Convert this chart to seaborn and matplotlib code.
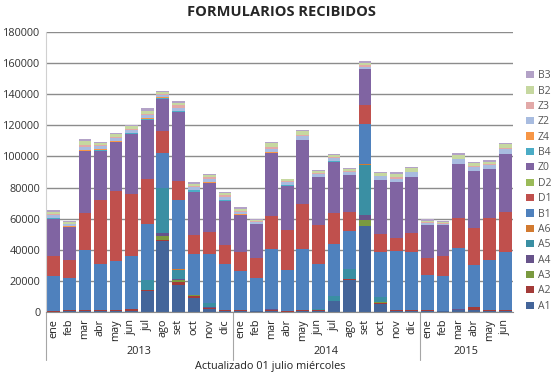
import numpy as np
import pandas as pd
import matplotlib
matplotlib.use("Agg")
import matplotlib.pyplot as plt
import matplotlib.transforms as mtransforms
import seaborn as sns

# datos
meses = ["ene", "feb", "mar", "abr", "may", "jun", "jul", "ago", "set", "oct", "nov", "dic"] * 2 + \
        ["ene", "feb", "mar", "abr", "may", "jun"]
anios = ["2013", "2014", "2015"]

A1 = [300, 500, 600, 600, 600, 700, 13300, 45400, 17500, 9200, 1900, 800, 500, 400, 700, 300, 500, 600,
      6800, 20800, 55000, 5200, 600, 500, 400, 400, 1000, 1500, 700, 700]
A2 = [400, 500, 800, 800, 800, 1000, 1000, 800, 1800, 1300, 900, 300, 700, 400, 900, 300, 600, 700,
      300, 300, 600, 600, 400, 500, 600, 300, 500, 1500, 400, 500]
A3 = [0, 0, 0, 0, 0, 0, 0, 2400, 1000, 300, 0, 0, 0, 0, 0, 0, 0, 300,
      0, 0, 3300, 600, 0, 0, 0, 0, 0, 0, 0, 0]
A4 = [0, 0, 0, 0, 0, 0, 0, 2500, 1100, 0, 500, 0, 0, 0, 300, 0, 0, 0,
      0, 0, 3200, 0, 0, 0, 0, 0, 300, 0, 0, 0]
A5 = [0, 0, 0, 0, 0, 0, 6500, 28700, 5800, 0, 2700, 400, 0, 0, 0, 0, 0, 300,
      3200, 6300, 32700, 3000, 200, 200, 0, 0, 300, 400, 0, 0]
A6 = [0, 0, 0, 0, 0, 0, 0, 0, 300, 0, 0, 0, 0, 0, 0, 0, 0, 0,
      0, 0, 400, 0, 0, 0, 0, 0, 0, 0, 0, 0]
B1 = [22200, 21000, 38200, 29200, 31100, 34500, 35900, 22500, 44800, 26700, 31500, 29100, 24900, 21000,
      38600, 26500, 39100, 29100, 33600, 24700, 25600, 29000, 37700, 37200, 23100, 22300, 38900, 26500,
      32400, 37200]
D1 = [12800, 11600, 24000, 41400, 45500, 39700, 28600, 14200, 12200, 11700, 13900, 12200, 12400, 13100,
      21200, 25800, 29500, 24700, 20000, 12100, 12300, 11900, 8800, 12300, 10500, 12900, 19200, 24000,
      26700, 25800]
D2 = [0] * 30
Z0 = [24400, 21000, 39800, 31800, 31000, 38500, 38100, 20600, 43800, 28200, 31400, 28500, 23800, 21400,
      40600, 28400, 40800, 30900, 32600, 24000, 23200, 34400, 35900, 35900, 21100, 19800, 35000, 36600,
      32000, 37300]
B4 = [200, 200, 400, 300, 300, 600, 600, 500, 700, 800, 0, 700, 0, 0, 0, 600, 0, 0,
      300, 0, 0, 0, 0, 0, 0, 0, 0, 0, 0, 0]
Z4 = [200, 200, 300, 500, 700, 200, 600, 400, 0, 300, 600, 0, 400, 0, 300, 0, 0, 0,
      0, 0, 0, 0, 0, 0, 0, 0, 0, 0, 0, 0]
Z2 = [2000, 1300, 2000, 1800, 1600, 1700, 2000, 1500, 1900, 1700, 2400, 2200, 1600, 1300, 2500, 1700,
      2600, 1800, 1900, 2100, 1100, 2600, 2200, 3100, 1500, 1000, 3000, 2600, 2200, 3000]
Z3 = [800, 500, 1100, 800, 1100, 500, 1000, 700, 2200, 1000, 900, 800, 700, 600, 700, 700, 1000, 700,
      700, 500, 1500, 400, 800, 400, 500, 400, 400, 800, 600, 700]
B2 = [1300, 900, 2800, 1200, 1500, 2300, 1600, 1100, 1200, 1000, 1200, 1300, 1500, 800, 2600, 1000,
      2200, 1400, 1400, 1300, 1300, 1700, 2000, 2500, 800, 800, 2400, 1600, 1500, 2500]
B3 = [900, 500, 1100, 700, 700, 300, 2100, 800, 1500, 1100, 900, 800, 800, 900, 800, 500, 400, 600,
      900, 200, 1200, 300, 1100, 900, 1000, 300, 1100, 1000, 900, 700]

# orden de apilado (de abajo hacia arriba)
series = ["A1", "A2", "A3", "A4", "A5", "A6", "B1", "D1", "D2", "Z0", "B4", "Z4", "Z2", "Z3", "B2", "B3"]
colores = {
    "A1": "#44659A", "A2": "#A33B38", "A3": "#7A9A3F", "A4": "#67538A",
    "A5": "#3A8FA3", "A6": "#D27A30", "B1": "#4F81BD", "D1": "#C0504D",
    "D2": "#9BBB59", "Z0": "#8064A2", "B4": "#4BACC6", "Z4": "#F79646",
    "Z2": "#A8BCE0", "Z3": "#E2A9A8", "B2": "#C6D8A0", "B3": "#B3A2C7",
}

df = pd.DataFrame({"A1": A1, "A2": A2, "A3": A3, "A4": A4, "A5": A5, "A6": A6, "B1": B1, "D1": D1,
                   "D2": D2, "Z0": Z0, "B4": B4, "Z4": Z4, "Z2": Z2, "Z3": Z3, "B2": B2, "B3": B3})
acum = df[series].cumsum(axis=1)
pos = np.arange(len(meses))

sns.set_style("white")
plt.rcParams["font.family"] = ["Open Sans", "DejaVu Sans"]

fig = plt.figure(figsize=(5.57, 3.77), dpi=100)
ax = fig.add_axes([46 / 557, 1 - 312 / 377, 467 / 557, 280 / 377])

# barras apiladas: se dibuja el acumulado desde la serie superior hacia abajo
for s in series[::-1]:
    sns.barplot(x=pos, y=acum[s].values, color=colores[s], saturation=1, width=0.82,
                linewidth=0, errorbar=None, label=s, ax=ax)

ax.set_xlim(-0.5, len(meses) - 0.5)
ax.set_ylim(0, 180000)
ax.set_yticks(np.arange(0, 180001, 20000))
ax.set_yticklabels([str(v) for v in range(0, 180001, 20000)], fontsize=7.8, color="#333333")
ax.yaxis.grid(True, color="#8C8C8C", linewidth=1)
ax.set_axisbelow(True)
ax.tick_params(axis="y", length=0, pad=4)

ax.set_xticks(pos)
ax.set_xticklabels(meses, rotation=90, fontsize=7.8, color="#222222")
ax.set_xticks(np.arange(-0.5, len(meses)), minor=True)
ax.tick_params(axis="x", which="major", length=0, pad=5)
ax.tick_params(axis="x", which="minor", length=18, color="#A6A6A6", width=0.8)
ax.set_xlabel("")

for sp in ["top", "right"]:
    ax.spines[sp].set_visible(False)
ax.spines["left"].set_color("#D0D0D0")
ax.spines["bottom"].set_color("#8C8C8C")

# años y separadores
trans = mtransforms.blended_transform_factory(ax.transData, ax.transAxes)
for xb in [-0.5, 11.5, 23.5]:
    ax.plot([xb, xb], [0, -48 / 280], transform=trans, color="#A6A6A6", linewidth=0.8, clip_on=False)
for nombre, xc in zip(anios, [5.5, 17.5, 26.5]):
    ax.text(xc, -40 / 280, nombre, transform=trans, ha="center", va="center", fontsize=7.8)

fig.text(270 / 557, 1 - 367 / 377, "Actualizado 01 julio miércoles", ha="center", va="center",
         fontsize=7.8, color="#222222")
fig.text(281 / 557, 1 - 12 / 377, "FORMULARIOS RECIBIDOS", ha="center", va="center",
         fontsize=10.5, fontweight="bold")

ax.legend(loc="upper left", bbox_to_anchor=(521 / 557, 1 - 65 / 377), bbox_transform=fig.transFigure,
          frameon=False, fontsize=7.5, handlelength=0.7, handleheight=0.7, handletextpad=0.4,
          labelspacing=0.42, borderpad=0, labelcolor="#555555")

fig.savefig("out.png", dpi=100, facecolor="white")
